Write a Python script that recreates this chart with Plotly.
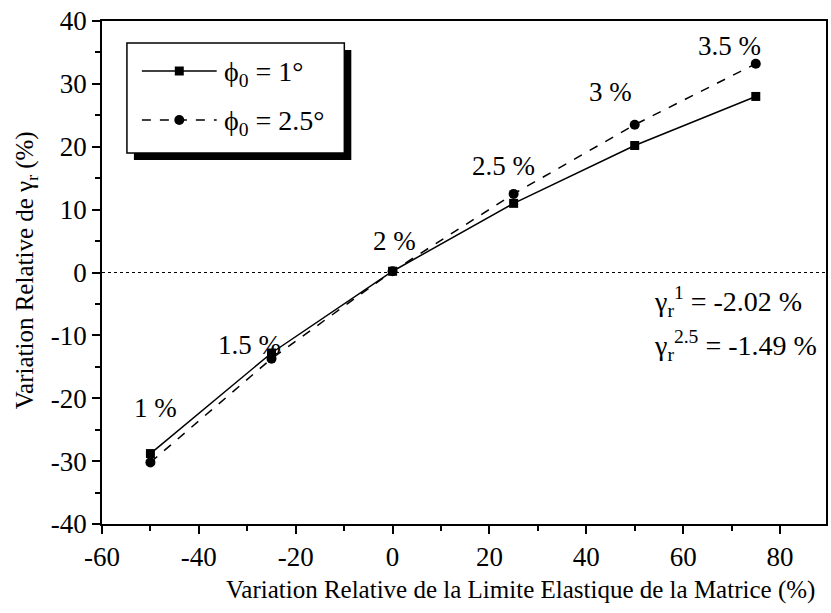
import plotly.graph_objects as go

x_vals = [-50, -25, 0, 25, 50, 75]
y_phi1 = [-28.8, -12.8, 0.2, 11.0, 20.2, 28.0]
y_phi25 = [-30.2, -13.7, 0.2, 12.5, 23.5, 33.2]
pct_labels = ["1 %", "1.5 %", "2 %", "2.5 %", "3 %", "3.5 %"]
pct_label_x = [-49, -29.5, 0.5, 23, 45, 69.5]
pct_label_y = [-21.5, -11.5, 5.0, 17.0, 28.7, 36.1]
x_ticks = [-60, -40, -20, 0, 20, 40, 60, 80]
y_ticks = [-40, -30, -20, -10, 0, 10, 20, 30, 40]
series_names = ["ϕ<sub>0</sub> = 1°", "ϕ<sub>0</sub> = 2.5°"]
x_title = "Variation Relative de la Limite Elastique de la Matrice (%)"
y_title = "Variation Relative de γ<sub>r</sub> (%)"

FONT = "Liberation Serif, Times New Roman, serif"
W, H = 831, 613
L, R, T, B = 102, 3, 21, 89
PW, PH = W - L - R, H - T - B


def px(xp):
    return (xp - L) / PW


def py(yp):
    return 1 - (yp - T) / PH


fig = go.Figure()
fig.add_trace(go.Scatter(x=x_vals, y=y_phi1, mode="lines+markers",
                         name=series_names[0], showlegend=False,
                         line=dict(color="black", width=1.5, dash="solid"),
                         marker=dict(symbol="square", size=9, color="black")))
fig.add_trace(go.Scatter(x=x_vals, y=y_phi25, mode="lines+markers",
                         name=series_names[1], showlegend=False,
                         line=dict(color="black", width=1.5, dash="dash"),
                         marker=dict(symbol="circle", size=10, color="black")))

for t, xx, yy in zip(pct_labels, pct_label_x, pct_label_y):
    fig.add_annotation(x=xx, y=yy, text=t, showarrow=False,
                       font=dict(family=FONT, size=27, color="black"))

fig.add_annotation(x=53.5, y=-4.6, xanchor="left", text="γ<sub>r</sub><sup>1</sup> = -2.02 %",
                   showarrow=False, font=dict(family=FONT, size=28, color="black"))
fig.add_annotation(x=53.5, y=-11.6, xanchor="left", text="γ<sub>r</sub><sup>2.5</sup> = -1.49 %",
                   showarrow=False, font=dict(family=FONT, size=28, color="black"))

# axis titles
fig.add_annotation(xref="paper", yref="paper", x=px(522), y=py(590),
                   xanchor="center", yanchor="middle",
                   text=x_title, showarrow=False,
                   font=dict(family=FONT, size=25, color="black"))
fig.add_annotation(xref="paper", yref="paper", x=px(26), y=py(270),
                   xanchor="center", yanchor="middle",
                   text=y_title, showarrow=False, textangle=-90,
                   font=dict(family=FONT, size=25, color="black"))

# zero reference line
fig.add_shape(type="line", xref="paper", x0=0, x1=1, yref="y", y0=0, y1=0,
              line=dict(color="black", width=1, dash="dot"))

# hand-drawn legend with drop shadow
fig.add_shape(type="rect", xref="paper", yref="paper",
              x0=px(134), x1=px(352), y0=py(160), y1=py(50),
              fillcolor="black", line=dict(width=0))
fig.add_shape(type="rect", xref="paper", yref="paper",
              x0=px(127), x1=px(345), y0=py(153), y1=py(43),
              fillcolor="white", line=dict(color="black", width=1.5))
# sample 1: solid line + square
fig.add_shape(type="line", xref="paper", yref="paper",
              x0=px(142), x1=px(217), y0=py(71), y1=py(71),
              line=dict(color="black", width=1.5))
fig.add_shape(type="rect", xref="paper", yref="paper",
              x0=px(175), x1=px(184), y0=py(75.5), y1=py(66.5),
              fillcolor="black", line=dict(width=0))
# sample 2: dashed line + circle
fig.add_shape(type="line", xref="paper", yref="paper",
              x0=px(142), x1=px(217), y0=py(120), y1=py(120),
              line=dict(color="black", width=1.5, dash="dash"))
fig.add_shape(type="circle", xref="paper", yref="paper",
              x0=px(174.5), x1=px(184.5), y0=py(125), y1=py(115),
              fillcolor="black", line=dict(width=0))
for nm, yp in zip(series_names, [73, 122]):
    fig.add_annotation(xref="paper", yref="paper", x=px(222), y=py(yp),
                       xanchor="left", yanchor="middle", text=nm, showarrow=False,
                       font=dict(family=FONT, size=28, color="black"))

fig.update_layout(
    width=W, height=H,
    margin=dict(l=L, r=R, t=T, b=B),
    paper_bgcolor="white", plot_bgcolor="white",
    font=dict(family=FONT, size=22, color="black"),
    showlegend=False,
    xaxis=dict(range=[-60, 89.5], tickvals=x_ticks, ticktext=[str(v) for v in x_ticks],
               ticks="outside", ticklen=8,
               tickwidth=1.5, tickcolor="black",
               minor=dict(dtick=10, ticks="outside", ticklen=5, tickcolor="black"),
               showline=True, linecolor="black", linewidth=1.5, mirror=True,
               showgrid=False, zeroline=False,
               tickfont=dict(family=FONT, size=27)),
    yaxis=dict(range=[-40, 40], tickvals=y_ticks, ticktext=[str(v) for v in y_ticks],
               ticks="outside", ticklen=8,
               tickwidth=1.5, tickcolor="black",
               minor=dict(dtick=5, ticks="outside", ticklen=5, tickcolor="black"),
               showline=True, linecolor="black", linewidth=1.5, mirror=True,
               showgrid=False, zeroline=False,
               tickfont=dict(family=FONT, size=27)),
)

fig.write_html("out.html", config={"displayModeBar": False},
               post_script="document.body.style.margin='0px';")
